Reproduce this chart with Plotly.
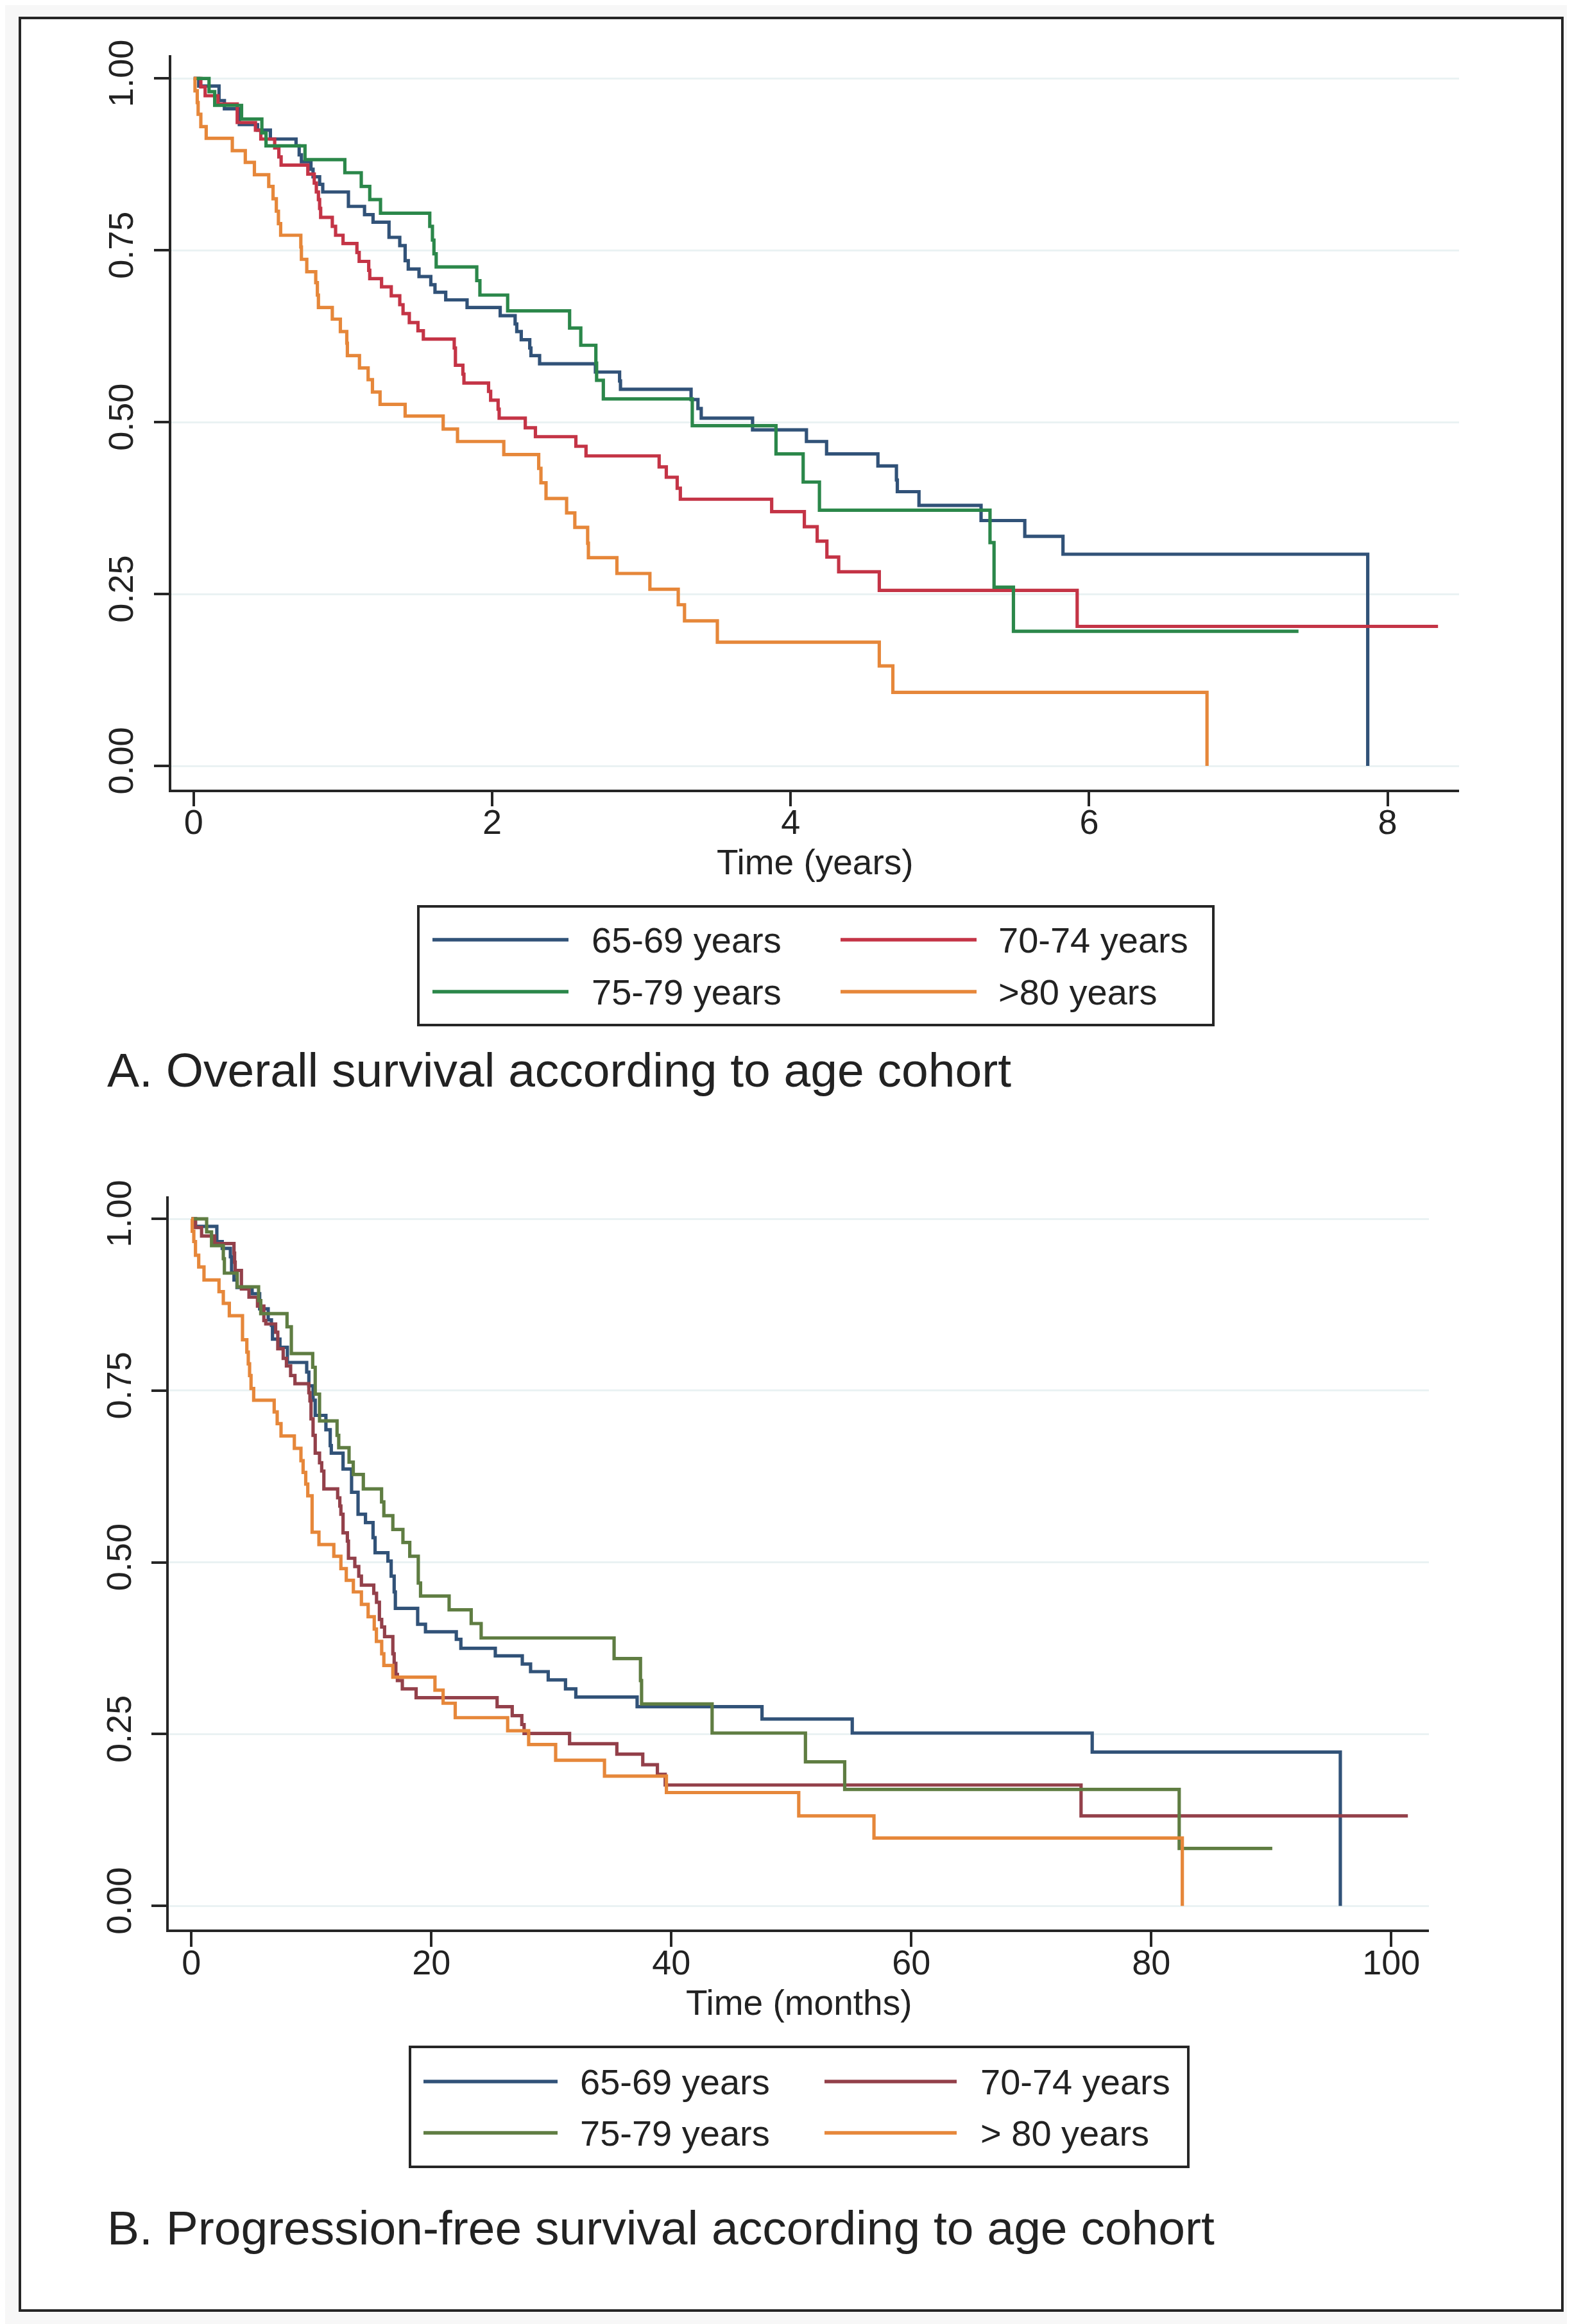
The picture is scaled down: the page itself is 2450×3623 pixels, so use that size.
import plotly.graph_objects as go

W, H = 2450, 3623

# ---------------- DATA ----------------
groups_os = ["65-69 years", "70-74 years", "75-79 years", ">80 years"]
groups_pfs = ["65-69 years", "70-74 years", "75-79 years", "> 80 years"]

# Overall survival (years)
os_t_6569 = [0, 0.034, 0.170, 0.206, 0.306, 0.428, 0.514, 0.686, 0.707, 0.722, 0.786, 0.800, 0.844, 0.865,
             1.037, 1.145, 1.202, 1.309, 1.381, 1.417, 1.438, 1.510, 1.589, 1.617, 1.689, 1.832, 2.054, 2.154,
             2.165, 2.195, 2.252, 2.260, 2.318, 2.692, 2.854, 2.860, 3.333, 3.379, 3.401, 3.745, 4.106, 4.241,
             4.585, 4.709, 4.715, 4.860, 5.276, 5.569, 5.825, 7.867]
os_s_6569 = [1, 0.989, 0.968, 0.956, 0.933, 0.925, 0.912, 0.902, 0.889, 0.879, 0.868, 0.857, 0.846, 0.835,
             0.814, 0.802, 0.791, 0.769, 0.757, 0.735, 0.723, 0.712, 0.700, 0.689, 0.678, 0.667, 0.655, 0.643,
             0.632, 0.620, 0.608, 0.597, 0.585, 0.573, 0.560, 0.548, 0.533, 0.520, 0.506, 0.489, 0.472, 0.454,
             0.4365, 0.416, 0.399, 0.379, 0.357, 0.334, 0.308, 0]

os_t_7074 = [0, 0.048, 0.077, 0.163, 0.292, 0.414, 0.450, 0.543, 0.571, 0.586, 0.765, 0.808, 0.822, 0.836,
             0.844, 0.851, 0.929, 0.951, 1.001, 1.094, 1.109, 1.173, 1.180, 1.259, 1.324, 1.381, 1.403, 1.445,
             1.503, 1.539, 1.746, 1.754, 1.804, 1.811, 1.976, 1.990, 2.040, 2.047, 2.222, 2.290, 2.561, 2.629,
             3.119, 3.167, 3.240, 3.261, 3.873, 4.092, 4.178, 4.243, 4.322, 4.594, 5.920, 8.338]
os_s_7074 = [1, 0.988, 0.975, 0.963, 0.936, 0.925, 0.912, 0.899, 0.886, 0.874, 0.861, 0.848, 0.835, 0.824,
             0.811, 0.798, 0.785, 0.772, 0.760, 0.747, 0.734, 0.721, 0.709, 0.697, 0.684, 0.671, 0.658, 0.645,
             0.633, 0.621, 0.608, 0.583, 0.570, 0.557, 0.545, 0.532, 0.519, 0.506, 0.492, 0.479, 0.465, 0.451,
             0.435, 0.420, 0.404, 0.388, 0.370, 0.348, 0.327, 0.304, 0.2825, 0.2554, 0.203, 0.203]

os_t_7579 = [0, 0.103, 0.141, 0.321, 0.457, 0.485, 0.746, 1.013, 1.123, 1.180, 1.252, 1.582, 1.600, 1.610,
             1.625, 1.897, 1.918, 2.104, 2.519, 2.594, 2.695, 2.700, 2.745, 3.341, 3.902, 4.084, 4.193, 5.336,
             5.363, 5.493, 7.403]
os_s_7579 = [1, 0.981, 0.961, 0.941, 0.921, 0.902, 0.882, 0.863, 0.843, 0.824, 0.804, 0.785, 0.765, 0.745,
             0.726, 0.706, 0.685, 0.662, 0.637, 0.612, 0.586, 0.561, 0.534, 0.495, 0.454, 0.413, 0.372, 0.325,
             0.260, 0.196, 0.196]

os_t_80 = [0, 0.009, 0.024, 0.030, 0.048, 0.084, 0.259, 0.346, 0.407, 0.503, 0.532, 0.554, 0.568, 0.583,
           0.718, 0.722, 0.758, 0.818, 0.829, 0.836, 0.929, 0.983, 1.026, 1.030, 1.111, 1.169, 1.198, 1.249,
           1.417, 1.672, 1.768, 2.078, 2.312, 2.327, 2.361, 2.499, 2.554, 2.640, 2.645, 2.836, 3.057, 3.247,
           3.289, 3.509, 4.594, 4.685, 6.790]
os_s_80 = [1, 0.982, 0.965, 0.948, 0.930, 0.913, 0.895, 0.878, 0.860, 0.843, 0.825, 0.807, 0.789, 0.772,
           0.755, 0.737, 0.719, 0.703, 0.685, 0.667, 0.650, 0.632, 0.615, 0.597, 0.579, 0.562, 0.544, 0.526,
           0.509, 0.490, 0.472, 0.453, 0.433, 0.412, 0.389, 0.368, 0.347, 0.324, 0.303, 0.280, 0.257, 0.2345,
           0.211, 0.180, 0.1455, 0.107, 0]

# Progression-free survival (months)
pfs_t_6569 = [0, 0.34, 2.12, 2.57, 3.25, 3.35, 3.55, 3.8, 5.06, 5.69, 6.40, 6.67, 6.76, 7.38, 8.0, 9.61,
              9.79, 10.14, 10.32, 11.21, 11.57, 11.66, 12.64, 13.35, 13.89, 14.51, 15.14, 15.31, 16.38, 16.65,
              16.9, 17.0, 18.86, 19.51, 22.08, 22.46, 25.33, 27.58, 28.27, 29.74, 31.18, 32.04, 37.15, 47.56,
              55.08, 75.08, 95.76]
pfs_s_6569 = [1, 0.989, 0.967, 0.957, 0.945, 0.922, 0.911, 0.900, 0.891, 0.869, 0.853, 0.845, 0.825, 0.813,
              0.791, 0.777, 0.757, 0.736, 0.714, 0.693, 0.670, 0.659, 0.636, 0.602, 0.570, 0.558, 0.536, 0.514,
              0.502, 0.480, 0.457, 0.433, 0.410, 0.399, 0.388, 0.375, 0.364, 0.352, 0.341, 0.329, 0.316, 0.304,
              0.290, 0.272, 0.2516, 0.224, 0]

pfs_t_7074 = [0, 0.34, 0.85, 1.94, 3.55, 3.6, 3.65, 4.17, 4.80, 5.51, 6.04, 6.2, 7.02, 7.20, 7.65, 7.92, 8.27,
              8.63, 9.79, 9.88, 9.97, 10.14, 10.32, 10.68, 10.86, 11.04, 12.19, 12.37, 12.46, 12.64, 13.0, 13.09,
              13.62, 13.95, 14.17, 15.2, 15.43, 15.67, 15.86, 16.1, 16.79, 16.9, 17.04, 17.17, 17.58, 18.73,
              25.48, 26.74, 27.54, 27.73, 31.52, 35.46, 37.62, 38.84, 39.49, 74.15, 101.39]
pfs_s_7074 = [1, 0.9875, 0.975, 0.964, 0.95, 0.937, 0.925, 0.898, 0.886, 0.873, 0.852, 0.847, 0.835, 0.811,
              0.797, 0.786, 0.772, 0.760, 0.747, 0.735, 0.709, 0.685, 0.659, 0.645, 0.633, 0.607, 0.594, 0.582,
              0.570, 0.543, 0.531, 0.506, 0.494, 0.480, 0.467, 0.455, 0.442, 0.417, 0.406, 0.392, 0.367, 0.353,
              0.337, 0.328, 0.316, 0.303, 0.290, 0.277, 0.264, 0.251, 0.236, 0.221, 0.2055, 0.1915, 0.176,
              0.131, 0.131]

pfs_t_7579 = [0, 1.27, 1.68, 2.66, 2.75, 3.82, 5.6, 5.78, 7.97, 8.33, 10.11, 10.32, 10.68, 12.14, 12.28, 13.14,
              13.49, 14.33, 15.85, 16.04, 16.79, 17.63, 18.2, 18.91, 19.1, 21.48, 23.32, 24.15, 35.23, 37.43,
              37.52, 43.4, 51.18, 54.45, 82.33, 90.09]
pfs_s_7579 = [1, 0.981, 0.961, 0.942, 0.921, 0.901, 0.881, 0.862, 0.843, 0.804, 0.784, 0.745, 0.706, 0.685,
              0.667, 0.646, 0.628, 0.607, 0.588, 0.568, 0.548, 0.529, 0.509, 0.470, 0.451, 0.431, 0.411, 0.390,
              0.360, 0.328, 0.294, 0.2516, 0.2098, 0.1696, 0.0836, 0.0836]

pfs_t_80 = [0, 0.07, 0.2, 0.34, 0.61, 1.05, 2.30, 2.66, 3.16, 4.26, 4.62, 4.74, 4.85, 4.97, 5.19, 6.90, 7.15,
            7.47, 8.58, 9.13, 9.31, 9.53, 9.70, 10.06, 10.63, 11.87, 12.46, 12.91, 13.5, 14.17, 14.73, 15.24,
            15.42, 15.86, 16.04, 16.79, 20.30, 20.98, 21.99, 26.36, 28.11, 30.36, 34.43, 39.59, 50.62, 56.89,
            82.59]
pfs_s_80 = [1, 0.982, 0.967, 0.947, 0.930, 0.911, 0.894, 0.877, 0.859, 0.824, 0.806, 0.789, 0.772, 0.753,
            0.736, 0.719, 0.702, 0.684, 0.666, 0.648, 0.631, 0.614, 0.597, 0.544, 0.526, 0.509, 0.491, 0.474,
            0.457, 0.439, 0.421, 0.403, 0.385, 0.367, 0.350, 0.333, 0.314, 0.295, 0.274, 0.255, 0.235, 0.212,
            0.189, 0.165, 0.131, 0.0989, 0]

os_xticks = [0, 2, 4, 6, 8]
pfs_xticks = [0, 20, 40, 60, 80, 100]
y_ticks = [0, 0.25, 0.5, 0.75, 1.0]
y_ticktext = ["0.00", "0.25", "0.50", "0.75", "1.00"]

# ---------------- STYLE ----------------
os_colors = ["#315278", "#c43446", "#2b874a", "#e6873a"]
pfs_colors = ["#315278", "#93404a", "#5f7d42", "#e6873a"]
INK = "#262626"
TXT = "#222222"
GRID = "#eaf2f3"
FONT = "Liberation Sans, Arial, Helvetica, sans-serif"
CURVE_W = 5.2

def px(x):
    return x / W

def py(y):
    return 1 - y / H

fig = go.Figure()

os_series = [(os_t_6569, os_s_6569), (os_t_7074, os_s_7074), (os_t_7579, os_s_7579), (os_t_80, os_s_80)]
pfs_series = [(pfs_t_6569, pfs_s_6569), (pfs_t_7074, pfs_s_7074), (pfs_t_7579, pfs_s_7579), (pfs_t_80, pfs_s_80)]

for (t, s), name, c in zip(os_series, groups_os, os_colors):
    fig.add_trace(go.Scatter(x=t, y=s, mode="lines", name=name, line=dict(shape="hv", color=c, width=CURVE_W),
                             xaxis="x", yaxis="y", showlegend=False))
for (t, s), name, c in zip(pfs_series, groups_pfs, pfs_colors):
    fig.add_trace(go.Scatter(x=t, y=s, mode="lines", name=name, line=dict(shape="hv", color=c, width=CURVE_W),
                             xaxis="x2", yaxis="y2", showlegend=False))

axis_common = dict(showline=True, linecolor=INK, linewidth=3.5, ticks="outside", ticklen=23, tickwidth=3.5,
                   tickcolor=INK, zeroline=False, tickfont=dict(size=54, color=TXT, family=FONT))

fig.update_layout(
    width=W, height=H, autosize=False, template="none",
    margin=dict(l=0, r=0, t=0, b=0),
    paper_bgcolor="#f7f7f7", plot_bgcolor="white",
    font=dict(family=FONT, color=TXT),
    xaxis=dict(domain=[px(258.7), px(2266)], range=[-0.151, 8.479], tickvals=os_xticks, anchor="y",
               showgrid=False, ticklabelstandoff=-22, **axis_common),
    yaxis=dict(domain=[py(1222.5), py(78)], range=[-0.034, 1.034], tickvals=y_ticks, ticktext=y_ticktext,
               tickangle=-90, anchor="x", showgrid=True, gridcolor=GRID, gridwidth=3, ticklabelstandoff=11,
               **axis_common),
    xaxis2=dict(domain=[px(255.2), px(2219.3)], range=[-1.877, 103.16], tickvals=pfs_xticks, anchor="y2",
                showgrid=False, ticklabelstandoff=-22, **axis_common),
    yaxis2=dict(domain=[py(3000.2), py(1856.8)], range=[-0.0345, 1.033], tickvals=y_ticks, ticktext=y_ticktext,
                tickangle=-90, anchor="x2", showgrid=True, gridcolor=GRID, gridwidth=3, ticklabelstandoff=11,
                **axis_common),
)

shapes = []
annotations = []

# outer frame
shapes.append(dict(type="rect", xref="paper", yref="paper", x0=px(23), x1=px(2427), y0=py(3594), y1=py(20),
                   line=dict(color=INK, width=4), fillcolor="white", layer="below"))

def add_text(text, x, y, size, xanchor="left"):
    annotations.append(dict(text=text, xref="paper", yref="paper", x=px(x), y=py(y), xanchor=xanchor,
                            yanchor="middle", showarrow=False, font=dict(size=size, color=TXT, family=FONT)))

def add_legend(box, rows, cols_line, cols_text, labels, colors):
    x0, x1, y0, y1 = box
    shapes.append(dict(type="rect", xref="paper", yref="paper", x0=px(x0), x1=px(x1), y0=py(y1), y1=py(y0),
                       line=dict(color=INK, width=4), fillcolor="white"))
    k = 0
    for r in rows:
        for (lx0, lx1), tx in zip(cols_line, cols_text):
            shapes.append(dict(type="line", xref="paper", yref="paper", x0=px(lx0), x1=px(lx1), y0=py(r), y1=py(r),
                               line=dict(color=colors[k], width=5.5)))
            add_text(labels[k], tx, r, 56)
            k += 1

add_legend((644, 1883, 1405, 1590), [1457, 1538], [(666, 878), (1302, 1514)], [912, 1546], groups_os, os_colors)
add_legend((631, 1844, 3183, 3370), [3237, 3317], [(652, 861), (1277, 1483)], [894, 1518], groups_pfs, pfs_colors)

add_text("Time (years)", 1262, 1336, 55, xanchor="center")
add_text("Time (months)", 1237, 3114, 55, xanchor="center")
add_text("A. Overall survival according to age cohort", 157, 1660, 75)
add_text("B. Progression-free survival according to age cohort", 157, 3465, 75)

fig.update_layout(shapes=shapes, annotations=annotations)
fig.write_html("out.html")
